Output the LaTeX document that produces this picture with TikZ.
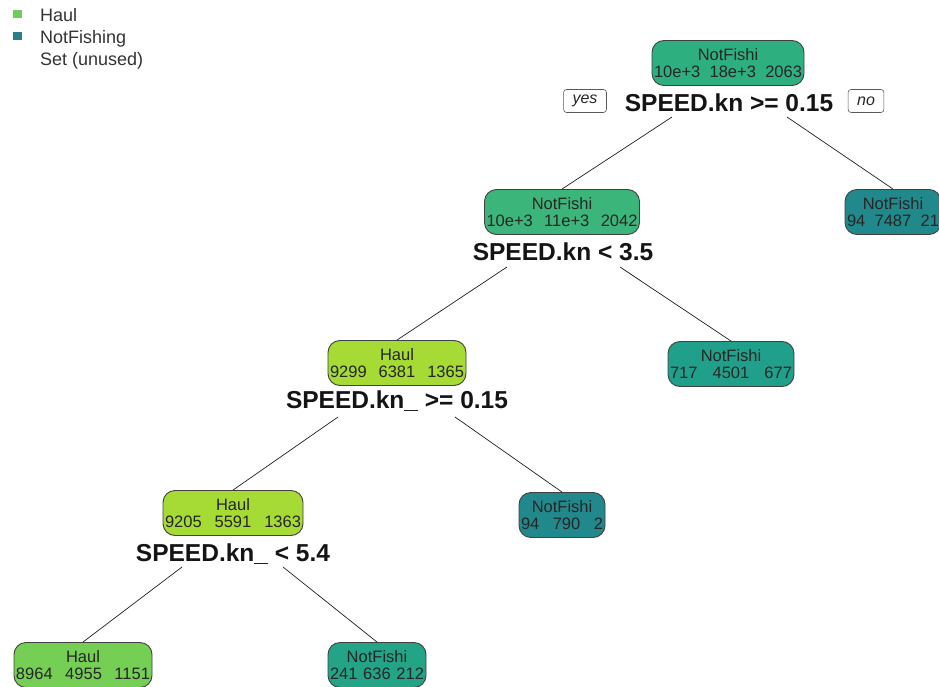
\documentclass[tikz,border=0pt]{standalone}
\usepackage{fontspec}
\setmainfont{Liberation Sans}
\usetikzlibrary{calc}
\definecolor{cRoot}{HTML}{2EAF80}
\definecolor{cMid}{HTML}{3BB57A}
\definecolor{cHaul}{HTML}{A6DA35}
\definecolor{cHaulB}{HTML}{76CF55}
\definecolor{cTealD}{HTML}{21888C}
\definecolor{cTealM}{HTML}{20A08A}
\definecolor{cTealG}{HTML}{23A486}
\definecolor{legHaul}{HTML}{6FCB5C}
\definecolor{legNot}{HTML}{2A7F8C}
\definecolor{edgeC}{HTML}{202020}
\newcommand\cnt[2]{#1\\[-1pt]\makebox[\linewidth][s]{#2}}
\begin{document}
\begin{tikzpicture}[x=1pt,y=-1pt,
  treenode/.style={draw=black!75, line width=0.9pt, rounded corners=12pt,
    minimum height=45pt, inner xsep=2pt, inner ysep=0pt, align=center,
    text=black!85, font=\fontsize{16.5}{17.5}\selectfont},
  splitlabel/.style={font=\bfseries\fontsize{24.5}{26}\selectfont,
    inner sep=0pt, anchor=base, text=black!92},
  yesno/.style={draw=black!65, line width=0.6pt, rounded corners=3pt,
    fill=white, font=\itshape\fontsize{16}{18}\selectfont,
    minimum height=23pt, inner xsep=9pt, inner ysep=0pt, text=black!85},
  branch/.style={draw=edgeC, line width=0.7pt},
  legtext/.style={anchor=base west, inner sep=0pt,
    font=\fontsize{18}{20}\selectfont, text=black!80},
  legbox/.style={minimum width=9pt, minimum height=8pt, inner sep=0pt}
]
\useasboundingbox (0,0) rectangle (939,687);
\fill[white] (0,0) rectangle (939,687);

% legend
\node[legbox, fill=legHaul] (lg1) at (17,14) {};
\node[legbox, fill=legNot] (lg2) at (17,36) {};
\node[legtext] (lt1) at (40,22) {Haul};
\node[legtext] (lt2) at (40,44) {NotFishing};
\node[legtext] (lt3) at (40,66) {Set (unused)};

% tree nodes
\node[treenode, fill=cRoot, text width=148pt] (root) at (728,63)
  {\cnt{NotFishi}{10e+3\hfil 18e+3\hfil 2063}};
\node[treenode, fill=cMid, text width=151pt] (n2) at (562,212)
  {\cnt{NotFishi}{10e+3\hfil 11e+3\hfil 2042}};
\node[treenode, fill=cTealD, text width=92pt] (nR) at (893,212)
  {\cnt{NotFishi}{94\hfil 7487\hfil 21}};
\node[treenode, fill=cHaul, text width=134pt] (n3) at (397,363)
  {\cnt{Haul}{9299\hfil 6381\hfil 1365}};
\node[treenode, fill=cTealM, text width=122pt] (n2R) at (731,364)
  {\cnt{NotFishi}{717\hfil 4501\hfil 677}};
\node[treenode, fill=cTealD, text width=82pt] (n3R) at (562,515)
  {\cnt{NotFishi}{94\hfil 790\hfil 2}};
\node[treenode, fill=cHaul, text width=136pt] (n4) at (233,513)
  {\cnt{Haul}{9205\hfil 5591\hfil 1363}};
\node[treenode, fill=cHaulB, text width=134pt] (n5) at (83,665)
  {\cnt{Haul}{8964\hfil 4955\hfil 1151}};
\node[treenode, fill=cTealG, text width=94pt] (n6) at (377,665)
  {\cnt{NotFishi}{241\hfil 636\hfil 212}};

% split labels
\node[splitlabel] (s1) at (729,112) {SPEED.kn >= 0.15};
\node[splitlabel] (s2) at (563,260) {SPEED.kn < 3.5};
\node[splitlabel] (s3) at (397,408) {SPEED.kn\_ >= 0.15};
\node[splitlabel] (s4) at (233,561) {SPEED.kn\_ < 5.4};

\node[yesno] (yes) at (585,101) {yes};
\node[yesno] (no) at (866,101) {no};

% branch start points
\coordinate (s1l) at ($(s1.base)+(-57,5)$);
\coordinate (s1r) at ($(s1.base)+(58,5)$);
\coordinate (s2l) at ($(s2.base)+(-56,7)$);
\coordinate (s2r) at ($(s2.base)+(57,7)$);
\coordinate (s3l) at ($(s3.base)+(-59,9)$);
\coordinate (s3r) at ($(s3.base)+(58,9)$);
\coordinate (s4l) at ($(s4.base)+(-51,6)$);
\coordinate (s4r) at ($(s4.base)+(50,6)$);

\draw[branch] (s1l) -- (n2.north);
\draw[branch] (s1r) -- (nR.north);
\draw[branch] (s2l) -- (n3.north);
\draw[branch] (s2r) -- (n2R.north);
\draw[branch] (s3l) -- (n4.north);
\draw[branch] (s3r) -- (n3R.north);
\draw[branch] (s4l) -- (n5.north);
\draw[branch] (s4r) -- (n6.north);
\end{tikzpicture}
\end{document}
